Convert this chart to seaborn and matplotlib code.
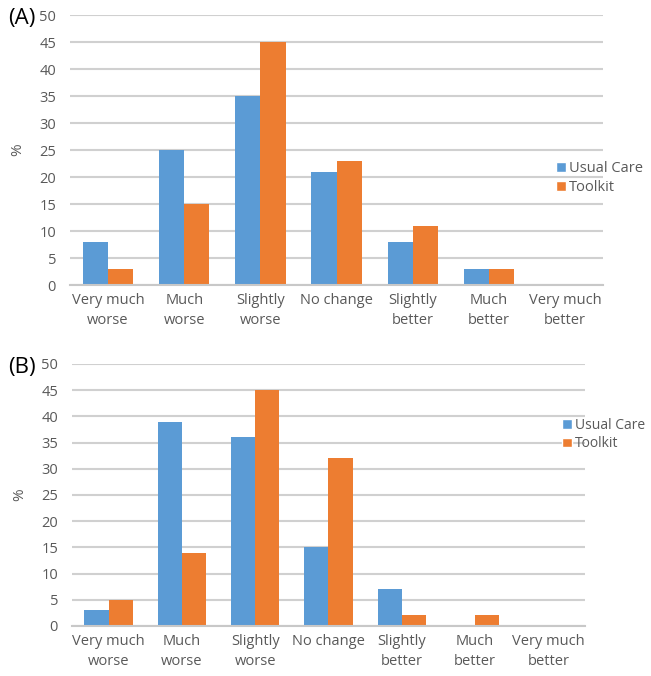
import matplotlib
matplotlib.use("Agg")
import matplotlib.pyplot as plt
import seaborn as sns
import pandas as pd
from matplotlib.patches import Patch

categories = ["Very much\nworse", "Much\nworse", "Slightly\nworse", "No change",
              "Slightly\nbetter", "Much\nbetter", "Very much\nbetter"]
groups = ["Usual Care", "Toolkit"]
a_usual = [8, 25, 35, 21, 8, 3, 0]
a_toolkit = [3, 15, 45, 23, 11, 3, 0]
b_usual = [3, 39, 36, 15, 7, 0, 0]
b_toolkit = [5, 14, 45, 32, 2, 2, 0]
yticks = list(range(0, 55, 5))

colors = {"Usual Care": "#5B9BD5", "Toolkit": "#ED7D31"}
text_color = "#595959"

sns.set_theme(style="white")
plt.rcParams['font.family'] = ['Open Sans', 'DejaVu Sans']

def make_df(u, t):
    rows = []
    for c, v in zip(categories, u):
        rows.append({"cat": c, "grp": "Usual Care", "val": v})
    for c, v in zip(categories, t):
        rows.append({"cat": c, "grp": "Toolkit", "val": v})
    return pd.DataFrame(rows)

fig = plt.figure(figsize=(6.51, 6.76), dpi=100)
axA = fig.add_axes([0.1075, 0.5784, 0.819, 0.3994])
axB = fig.add_axes([0.1106, 0.074, 0.788, 0.3876])

for ax, u, t, lab, legxy, lfs in [(axA, a_usual, a_toolkit, "(A)", (0.845, 0.77), 10.5),
                                   (axB, b_usual, b_toolkit, "(B)", (0.855, 0.39), 10)]:
    df = make_df(u, t)
    sns.barplot(data=df, x="cat", y="val", hue="grp", order=categories,
                hue_order=groups, palette=colors, width=0.66, gap=0,
                ax=ax, legend=False, saturation=1, linewidth=0)
    ax.set_ylim(0, 50)
    ax.set_xlim(-0.5, 6.5)
    ax.set_yticks(yticks)
    ax.set_xlabel("")
    ax.set_ylabel("%", color=text_color, fontsize=11, labelpad=10)
    ax.yaxis.grid(True, color="#D0D0D0", linewidth=1.5)
    ax.set_axisbelow(True)
    for s in ["top", "right", "left"]:
        ax.spines[s].set_visible(False)
    ax.spines["bottom"].set_color("#C8C8C8")
    ax.spines["bottom"].set_linewidth(1.5)
    ax.tick_params(axis="both", colors=text_color, labelsize=10.5, length=0)
    ax.tick_params(axis="x", pad=6)
    ax.tick_params(axis="y", pad=10)
    for tl in ax.get_xticklabels():
        tl.set_linespacing(1.4)
    fig.text(0.012, ax.get_position().y1 - 0.005, lab, fontsize=16, color="black",
             va="center", ha="left")
    handles = [Patch(facecolor=colors[g], label=g) for g in groups]
    fig.legend(handles=handles, loc="upper left", bbox_to_anchor=legxy,
               frameon=False, handlelength=0.7, handleheight=0.7,
               handletextpad=0.2, labelspacing=0.25, fontsize=lfs,
               labelcolor=text_color, borderaxespad=0)

fig.savefig("out.png", dpi=100)
